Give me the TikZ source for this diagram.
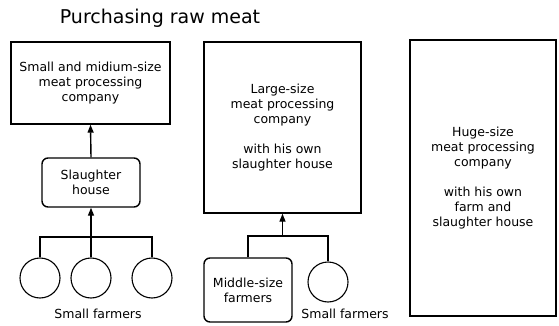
\documentclass[tikz,border=0pt]{standalone}
\usepackage{fontspec}
\setmainfont{DejaVu Sans}
\usepackage{tikz}
\usetikzlibrary{arrows.meta}

\begin{document}
\begin{tikzpicture}[x=1pt,y=-1pt,line width=1.4pt,
    txt/.style = {font=\fontsize{12.5}{15}\selectfont, align=center, inner sep=0pt},
    company/.style = {draw, txt, rectangle},
    farmbox/.style = {draw, txt, rounded corners=6pt},
    farmer/.style = {draw, circle, line width=1.1pt, minimum size=40pt, inner sep=0pt},
    up/.style = {-{Triangle[length=8pt,width=6pt]}}]
          \useasboundingbox (0,0) rectangle (559,326);
          \node[font=\fontsize{19}{20}\selectfont] (title) at (160,18) {Purchasing raw meat};

          % % SMALL AND MIDIUM-SIZE COMPANY
          \node[company, minimum width=159pt, minimum height=82pt] (smallco) at (90.5,83)
             {Small and midium-size\\meat processing\\company};
          \node[farmbox, minimum width=98pt, minimum height=49pt] (slaughter) at (91,182.5)
             {Slaughter\\house};
          \node[farmer] (f1) at (40,278) {};
          \node[farmer] (f2) at (91,278) {};
          \node[farmer] (f3) at (152,278) {};
          \node[txt] (lbl1) at (98,314) {Small farmers};
          \coordinate (j1) at (91,237);
          \draw (f1.north) |- (j1) -| (f3.north);
          \draw (f2.north) -- (j1);
          \draw[up] (j1) -- (slaughter.south);
          \draw[up] (slaughter.north) -- (smallco.south);

          % % LARGE-SIZE COMPANY
          \node[company, minimum width=157pt, minimum height=171pt] (largeco) at (282.5,127.5)
             {Large-size\\meat processing\\company\\[15pt]with his own\\slaughter house};
          \node[farmbox, minimum width=88pt, minimum height=64pt] (midfarm) at (248,290)
             {Middle-size\\farmers};
          \node[farmer] (f4) at (328,282) {};
          \node[txt] (lbl2) at (345,314) {Small farmers};
          \coordinate (j2) at (282.5,236);
          \draw (midfarm.north) |- (j2) -| (f4.north);
          \draw[up] (j2) -- (largeco.south);

          % % HUGE-SIZE COMPANY
          \node[company, minimum width=146pt, minimum height=276pt] (hugeco) at (483,178)
             {Huge-size\\meat processing\\company\\[15pt]with his own\\farm and\\slaughter house};
        \end{tikzpicture}
\end{document}
